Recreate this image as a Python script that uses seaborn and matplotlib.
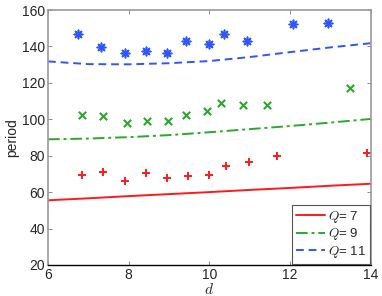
import numpy as np
import pandas as pd
import matplotlib
matplotlib.use("Agg")
import matplotlib.pyplot as plt
import seaborn as sns

# fitted curves
d_line = [6, 7, 8, 9, 10, 11, 12, 13, 14]
q7_line = [55.5, 56.6, 57.8, 58.9, 60.0, 61.2, 62.3, 63.5, 64.6]
q9_line = [89.0, 89.4, 90.2, 91.3, 92.9, 94.6, 96.3, 98.2, 100.2]
q11_line = [131.8, 130.3, 130.2, 130.8, 132.0, 134.2, 136.9, 139.5, 141.8]

# measured points
d_q7 = [6.85, 7.35, 7.9, 8.42, 8.95, 9.47, 10.0, 10.42, 10.99, 11.68, 13.9]
p_q7 = [69.5, 71.1, 66.2, 70.6, 67.6, 69.0, 69.3, 74.2, 76.4, 80.0, 81.4]
d_q9 = [6.84, 7.36, 7.96, 8.46, 8.98, 9.43, 9.93, 10.28, 10.84, 11.42, 13.49]
p_q9 = [102.4, 101.9, 97.8, 98.8, 99.2, 102.1, 104.8, 109.2, 107.9, 107.7, 117.4]
d_q11 = [6.75, 7.32, 7.91, 8.43, 8.96, 9.43, 9.98, 10.37, 10.94, 12.06, 12.93]
p_q11 = [146.7, 139.6, 136.3, 137.4, 136.5, 142.9, 141.2, 147.1, 143.1, 152.6, 153.1]

red = "#ff1a1a"
green = "#2ba82b"
blue = "#2f55ff"

sns.set_style("ticks")
plt.rcParams["font.family"] = ["Liberation Sans", "DejaVu Sans"]
plt.rcParams["mathtext.fontset"] = "cm"

fig = plt.figure(figsize=(3.82, 2.96), dpi=100)
ax = fig.add_axes([0.1257, 0.105, 0.8453, 0.861])

sns.lineplot(x=d_line, y=q7_line, color=red, lw=1.4, ax=ax, label=r"$Q$= 7")
sns.lineplot(x=d_line, y=q9_line, color=green, lw=1.4, ax=ax, label=r"$Q$= 9")
sns.lineplot(x=d_line, y=q11_line, color=blue, lw=1.4, ax=ax, label=r"$Q$= 11")
ax.lines[1].set_dashes([6, 2, 1.5, 2])
ax.lines[2].set_dashes([4, 2.5])

sns.scatterplot(x=d_q7, y=p_q7, marker="+", color=red, s=40, linewidth=1.4, ax=ax)
sns.scatterplot(x=d_q9, y=p_q9, marker="x", color=green, s=28, linewidth=1.5, ax=ax)
sns.scatterplot(x=d_q11, y=p_q11, marker=(8, 2, 0), color=blue, s=36, linewidth=1.2, ax=ax)

ax.set_xlim(6, 14)
ax.set_ylim(20, 160)
ax.set_xticks([6, 8, 10, 12, 14])
ax.set_yticks([20, 40, 60, 80, 100, 120, 140, 160])
ax.tick_params(direction="in", length=3, width=0.6, color="#777777",
               labelsize=10, top=True, right=True, pad=2)
for side in ["top", "right", "left"]:
    ax.spines[side].set_color("#999999")
    ax.spines[side].set_linewidth(1.2)
ax.spines["bottom"].set_color("black")
ax.spines["bottom"].set_linewidth(1.0)

ax.set_xlabel(r"$d$", fontsize=11, labelpad=0)
ax.set_ylabel("period", fontsize=10, labelpad=2)

leg = ax.legend(loc="lower right", fontsize=9.5, handlelength=2.2, handletextpad=0.2,
                borderpad=0.3, labelspacing=0.1, fancybox=False, framealpha=1,
                borderaxespad=0.1)
leg.get_frame().set_edgecolor("#555555")
leg.get_frame().set_linewidth(0.8)

fig.savefig("out.png", dpi=100)
